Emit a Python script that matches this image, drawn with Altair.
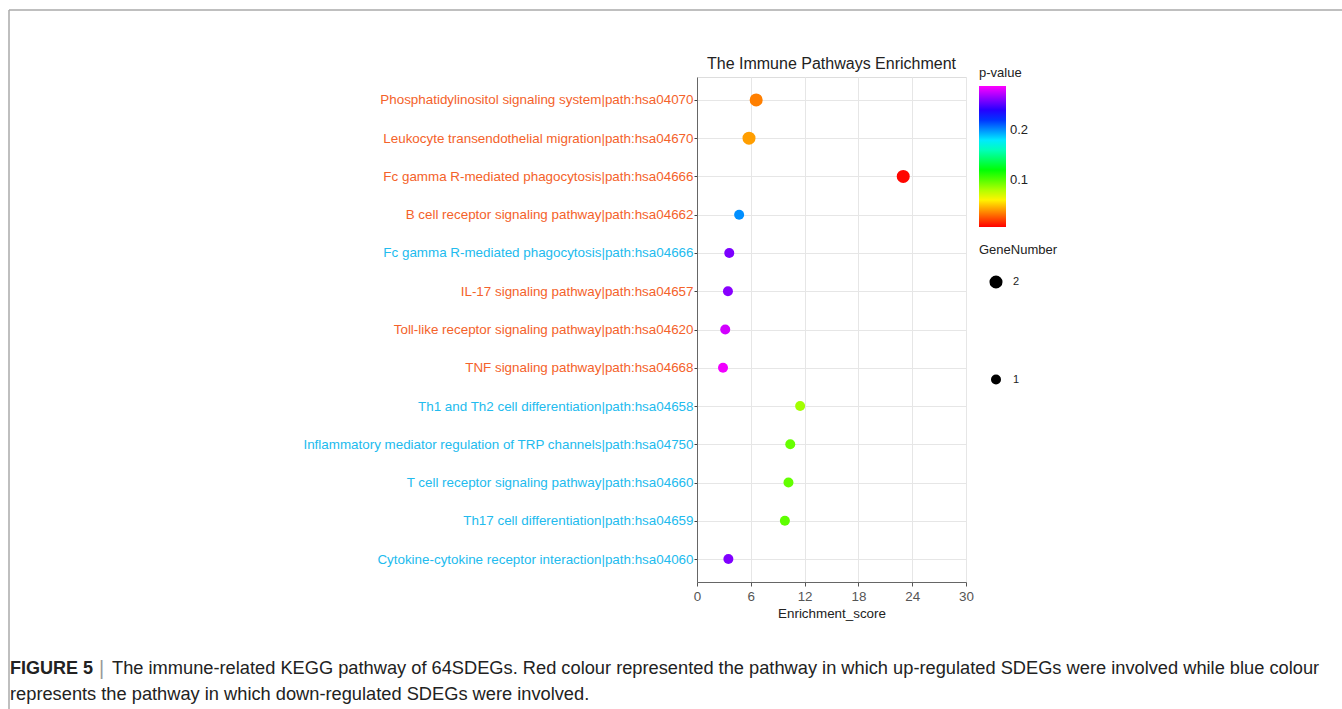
import json
import altair as alt
import pandas as pd

pathways = [
    "Phosphatidylinositol signaling system|path:hsa04070",
    "Leukocyte transendothelial migration|path:hsa04670",
    "Fc gamma R-mediated phagocytosis|path:hsa04666",
    "B cell receptor signaling pathway|path:hsa04662",
    "Fc gamma R-mediated phagocytosis|path:hsa04666",
    "IL-17 signaling pathway|path:hsa04657",
    "Toll-like receptor signaling pathway|path:hsa04620",
    "TNF signaling pathway|path:hsa04668",
    "Th1 and Th2 cell differentiation|path:hsa04658",
    "Inflammatory mediator regulation of TRP channels|path:hsa04750",
    "T cell receptor signaling pathway|path:hsa04660",
    "Th17 cell differentiation|path:hsa04659",
    "Cytokine-cytokine receptor interaction|path:hsa04060",
]
regulation = ["up", "up", "up", "up", "down", "up", "up", "up",
              "down", "down", "down", "down", "down"]
scores = [6.6, 5.8, 23.0, 4.7, 3.6, 3.45, 3.15, 2.9, 11.5, 10.4, 10.2, 9.8, 3.5]
pvals = [0.034, 0.041, 0.007, 0.200, 0.259, 0.262, 0.278, 0.285,
         0.083, 0.096, 0.097, 0.098, 0.260]
genes = [2, 2, 2, 1, 1, 1, 1, 1, 1, 1, 1, 1, 1]

chart_title = "The Immune Pathways Enrichment"
caption1_bold = "FIGURE 5"
caption1_rest = ("The immune-related KEGG pathway of 64SDEGs. Red colour represented the pathway "
                 "in which up-regulated SDEGs were involved while blue colour")
caption2 = "represents the pathway in which down-regulated SDEGs were involved."

df = pd.DataFrame({
    "idx": list(range(len(pathways))),
    "pathway": pathways,
    "regulation": regulation,
    "Enrichment_score": scores,
    "pvalue": pvals,
    "GeneNumber": genes,
})

FONT = "Liberation Sans"
UP_COLOR = "#f4622a"
DOWN_COLOR = "#22bbee"

down_idx = [i for i, r in enumerate(regulation) if r == "down"]
label_expr = json.dumps(pathways) + "[datum.value]"
color_test = "indexof(" + json.dumps(down_idx) + ", datum.value) >= 0"

W, H = 269, 505
LEFT, TOP = 697, 77
PAGE_W, PAGE_H = 1342, 709

points = alt.Chart(df).mark_circle(opacity=1).encode(
    x=alt.X("Enrichment_score:Q",
            scale=alt.Scale(domain=[0, 30], nice=False),
            axis=alt.Axis(values=[0, 6, 12, 18, 24, 30], title="Enrichment_score",
                          labelFontSize=13.4, labelColor="#555555", labelFont=FONT,
                          labelFlush=False,
                          titleFontSize=13.4, titleFontWeight="normal", titleColor="#222222",
                          titleFont=FONT, titlePadding=4,
                          tickSize=4, tickColor="#555555", domainColor="#666666",
                          gridColor="#e6e6e6", labelPadding=3)),
    y=alt.Y("idx:O", sort="ascending",
            scale=alt.Scale(padding=0.6),
            axis=alt.Axis(title=None, labelExpr=label_expr, labelLimit=600,
                          labelFontSize=13.4, labelFont=FONT, grid=True,
                          labelColor={"condition": {"test": color_test, "value": DOWN_COLOR},
                                      "value": UP_COLOR},
                          tickSize=3, tickColor="#444444", domainColor="#666666",
                          gridColor="#e6e6e6", labelPadding=1)),
    color=alt.Color("pvalue:Q",
                    scale=alt.Scale(domain=[0.006, 0.288], range=["#ff0000", "#ff00ff"],
                                    interpolate="hsl-long"),
                    legend=alt.Legend(title="p-value", orient="none", legendX=282, legendY=-10,
                                      direction="vertical", values=[0.1, 0.2],
                                      gradientLength=141, gradientThickness=27,
                                      gradientStrokeWidth=0,
                                      titleFontSize=13, titleFontWeight="normal",
                                      titleColor="#222222", titleFont=FONT,
                                      labelFontSize=13, labelColor="#222222", labelFont=FONT,
                                      titlePadding=6, labelOffset=4)),
    size=alt.Size("GeneNumber:Q",
                  scale=alt.Scale(domain=[1, 2], range=[100, 170]),
                  legend=alt.Legend(title="GeneNumber", orient="none", legendX=282, legendY=167,
                                    values=[2, 1], format="d", symbolFillColor="black",
                                    symbolStrokeWidth=0, symbolOffset=10,
                                    titleFontSize=13, titleFontWeight="normal",
                                    titleColor="#222222", titleFont=FONT,
                                    labelFontSize=11, labelColor="#222222", labelFont=FONT,
                                    rowPadding=84, titlePadding=18, labelOffset=10)),
    tooltip=["pathway", "Enrichment_score", "pvalue", "GeneNumber"],
)

txt_df = pd.DataFrame({"a": [caption1_bold], "b": [caption1_rest], "c": [caption2],
                       "t": [chart_title]})
base = alt.Chart(txt_df)

title_mark = base.mark_text(align="center", baseline="alphabetic", fontSize=16, font=FONT,
                            color="#222222").encode(
    text="t:N", x=alt.value(W / 2), y=alt.value(69 - TOP))
cap1 = base.mark_text(align="left", baseline="alphabetic", fontSize=18, font=FONT,
                      fontWeight="bold", color="#222222").encode(
    text="a:N", x=alt.value(10 - LEFT), y=alt.value(674 - TOP))
bar = base.mark_text(align="left", baseline="alphabetic", fontSize=20, font=FONT,
                     color="#999999", text="|").encode(
    x=alt.value(99 - LEFT), y=alt.value(675 - TOP))
cap2 = base.mark_text(align="left", baseline="alphabetic", fontSize=18.25, font=FONT,
                      color="#222222").encode(
    text="b:N", x=alt.value(112 - LEFT), y=alt.value(674 - TOP))
cap3 = base.mark_text(align="left", baseline="alphabetic", fontSize=18.25, font=FONT,
                      color="#222222").encode(
    text="c:N", x=alt.value(10 - LEFT), y=alt.value(700 - TOP))

frame_top = base.mark_rule(color="#aaaaaa", strokeWidth=1.5).encode(
    x=alt.value(9 - LEFT), x2=alt.value(PAGE_W - LEFT),
    y=alt.value(10 - TOP), y2=alt.value(10 - TOP))
frame_left = base.mark_rule(color="#aaaaaa", strokeWidth=1.5).encode(
    x=alt.value(9 - LEFT), x2=alt.value(9 - LEFT),
    y=alt.value(10 - TOP), y2=alt.value(PAGE_H - TOP))

chart = alt.layer(points, title_mark, frame_top, frame_left, cap1, bar, cap2, cap3).properties(
    width=W, height=H,
    autosize=alt.AutoSizeParams(type="none"),
    padding={"left": LEFT, "top": TOP, "right": PAGE_W - LEFT - W, "bottom": PAGE_H - TOP - H},
).configure_view(stroke="#888888", strokeWidth=1).configure(background="white")

chart.save("out.html", embed_options={"renderer": "svg", "actions": False})
